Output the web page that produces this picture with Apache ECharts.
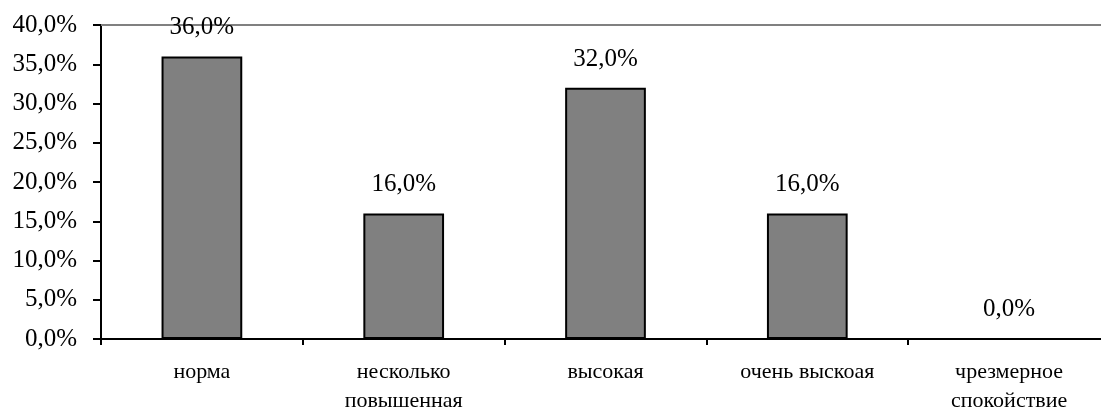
<!DOCTYPE html>
<html>
<head>
<meta charset="utf-8">
<script src="https://cdn.jsdelivr.net/npm/echarts@6/dist/echarts.min.js"></script>
<style>html,body{margin:0;padding:0;background:#fff;}#c{width:1101px;height:407px;}</style>
</head>
<body>
<div id="c"></div>
<script>
var categories = ['норма', 'несколько\nповышенная', 'высокая', 'очень выскоая', 'чрезмерное\nспокойствие'];
var values = [36.0, 16.0, 32.0, 16.0, 0.0];
var yTicks = [0, 5, 10, 15, 20, 25, 30, 35, 40];

var fmt = function (v) { return v.toFixed(1).replace('.', ',') + '%'; };
var serif = '"Liberation Serif", "Times New Roman", serif';
var chart = echarts.init(document.getElementById('c'));
chart.setOption({
  animation: false,
  grid: { left: 101, right: -9, top: 25, bottom: 68, containLabel: false, outerBoundsMode: 'none' },
  xAxis: [{
    type: 'category',
    data: categories,
    axisLine: { lineStyle: { color: '#000', width: 2 } },
    axisTick: { show: true, length: 6, lineStyle: { color: '#000', width: 2 } },
    axisLabel: { color: '#000', fontFamily: serif, fontSize: 22, lineHeight: 29, margin: 19, interval: 0 }
  }, {
    type: 'category',
    position: 'top',
    data: categories,
    axisLine: { lineStyle: { color: '#808080', width: 2 } },
    axisTick: { show: false },
    axisLabel: { show: false }
  }],
  yAxis: {
    type: 'value',
    min: yTicks[0],
    max: yTicks[yTicks.length - 1],
    interval: 5,
    axisLine: { show: true, lineStyle: { color: '#000', width: 2 } },
    axisTick: { show: true, length: 8, lineStyle: { color: '#000', width: 2 } },
    splitLine: { show: false },
    axisLabel: { color: '#000', fontFamily: serif, fontSize: 25, margin: 24, formatter: fmt }
  },
  series: [{
    type: 'bar',
    data: values,
    barWidth: '40%',
    itemStyle: { color: '#808080', borderColor: '#000', borderWidth: 2 },
    label: {
      show: true, position: 'top', distance: 16,
      color: '#000', fontFamily: serif, fontSize: 25,
      formatter: function (p) { return fmt(p.value); }
    }
  }]
});
</script>
</body>
</html>
